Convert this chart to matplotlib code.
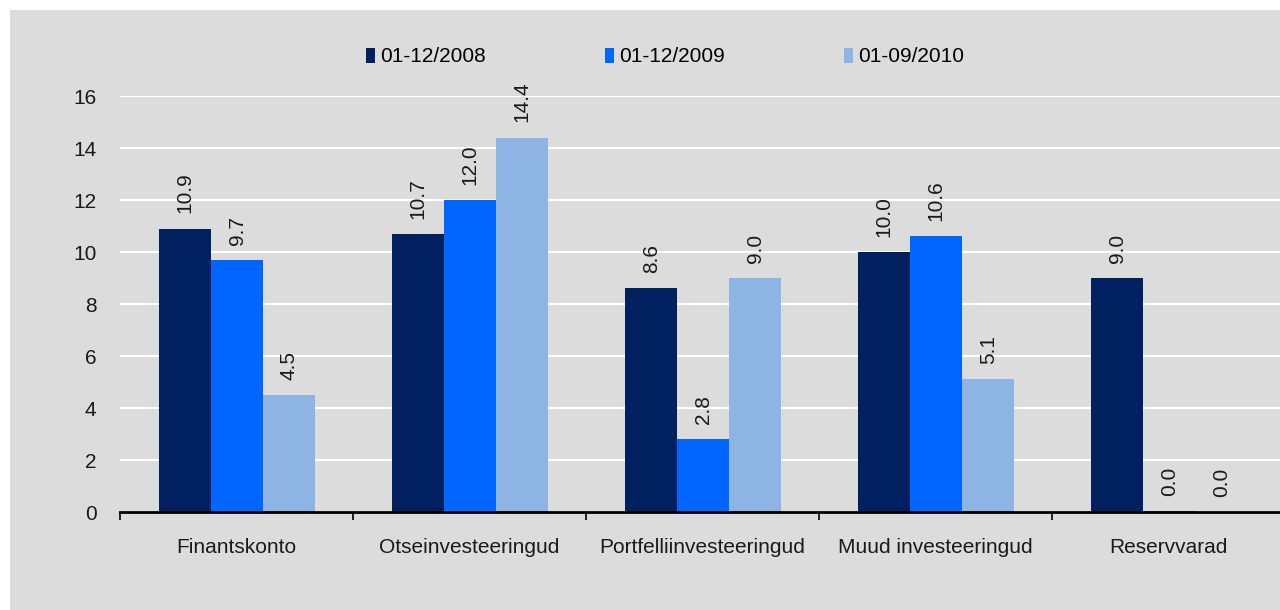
import numpy as np
import matplotlib.pyplot as plt
from matplotlib.patches import Rectangle

categories = ['Finantskonto', 'Otseinvesteeringud', 'Portfelliinvesteeringud',
              'Muud investeeringud', 'Reservvarad']
series_labels = ['01-12/2008', '01-12/2009', '01-09/2010']
v2008 = [10.9, 10.7, 8.6, 10.0, 9.0]
v2009 = [9.7, 12.0, 2.8, 10.6, 0.04]
v2010 = [4.5, 14.4, 9.0, 5.1, 0.0]
yticks = [0, 2, 4, 6, 8, 10, 12, 14, 16]

colors = ['#00205f', '#0066ff', '#8db4e2']
bg = '#dcdcdc'
fs = 15

plt.rcParams['font.family'] = ['Liberation Sans', 'DejaVu Sans']

fig = plt.figure(figsize=(12.8, 6.1), dpi=100)
fig.patch.set_facecolor('white')
# grey panel, leaving a thin white margin on top and left
fig.add_artist(Rectangle((10 / 1280, 0), 1 - 10 / 1280, 1 - 10 / 610,
                         transform=fig.transFigure, facecolor=bg,
                         edgecolor='none', zorder=0))

ax = fig.add_axes([120 / 1280, 1 - 512 / 610, 1165 / 1280, (512 - 96) / 610])
ax.set_facecolor('none')

x = np.arange(len(categories))
w = 0.223
for i, (vals, lab, col) in enumerate(zip([v2008, v2009, v2010], series_labels, colors)):
    pos = x + (i - 1) * w + 0.003
    bars = ax.bar(pos, vals, width=w, color=col, label=lab, zorder=3)
    for b, v in zip(bars, vals):
        ax.annotate(f'{v:.1f}', (b.get_x() + b.get_width() / 2, v),
                    xytext=(0, 11), textcoords='offset points',
                    rotation=90, ha='center', va='bottom', fontsize=fs,
                    color='#1a1a1a')

ax.set_xlim(-0.5, len(categories) - 0.5)
ax.set_ylim(0, 16)
ax.set_yticks(yticks)
ax.tick_params(axis='y', length=0, pad=17, labelsize=fs, labelcolor='#1a1a1a')
ax.grid(axis='y', color='white', linewidth=1.5, zorder=1)

# category labels centred, tick marks at group boundaries
ax.set_xticks(x)
ax.set_xticklabels(categories, fontsize=fs, color='#1a1a1a')
ax.tick_params(axis='x', length=0, pad=19)
ax.set_xticks(np.arange(len(categories) + 1) - 0.5, minor=True)
ax.tick_params(axis='x', which='minor', length=6, width=1.2, direction='out')

for s in ['top', 'right', 'left']:
    ax.spines[s].set_visible(False)
ax.spines['bottom'].set_linewidth(2)
ax.spines['bottom'].set_zorder(4)

ax.legend(loc='center', bbox_to_anchor=(665 / 1280, 1 - 57 / 610),
          bbox_transform=fig.transFigure, ncol=3, frameon=False,
          fontsize=fs, handlelength=0.45, handleheight=0.75, handletextpad=0.25,
          columnspacing=5.7)

fig.savefig('out.png', dpi=100, facecolor=fig.get_facecolor())
